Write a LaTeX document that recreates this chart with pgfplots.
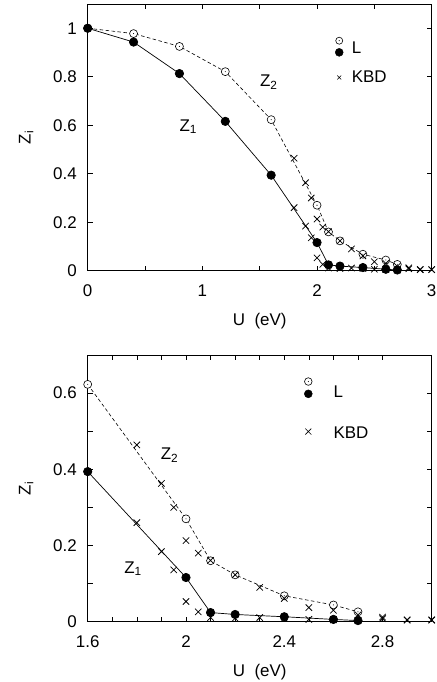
\documentclass[border=0pt]{standalone}
\usepackage{fontspec}
\setmainfont{Liberation Sans}
\usepackage{pgfplots}
\usepackage{pgfplotstable}
\pgfplotsset{compat=1.18}

\pgfdeclareplotmark{odot}{%
  \pgfpathcircle{\pgfpointorigin}{\pgfplotmarksize}\pgfusepathqfillstroke
  \begin{pgfscope}\pgfsetfillcolor{black}%
  \pgfpathcircle{\pgfpointorigin}{0.55pt}\pgfusepathqfill\end{pgfscope}}

\pgfplotstableread{
x z2 z1
0 1 1
0.4 0.978 0.943
0.8 0.925 0.813
1.2 0.821 0.616
1.6 0.623 0.394
2.0 0.270 0.116
2.1 0.160 0.024
2.2 0.123 0.019
2.4 0.068 0.013
2.6 0.044 0.006
2.7 0.026 0.003
}\Ldata

\pgfplotstableread{
x z2 z1
1.8 0.464 0.260
1.9 0.363 0.184
1.95 0.300 0.136
2.0 0.213 0.053
2.05 0.180 0.026
2.1 0.161 0.011
2.2 0.123 0.009
2.3 0.090 0.011
2.4 0.061 0.009
2.5 0.037 0.006
2.6 0.030 0.005
2.7 0.018 0.003
2.8 0.012 0.008
2.9 0.005 0.004
3.0 0.005 0.004
}\KBDdata

\newcommand{\fs}{\fontsize{17}{20}\selectfont}
\tikzset{lab/.style={font=\fs, inner sep=0pt}}

\pgfplotsset{
  myax/.style={
    scale only axis, width=344bp, height=266.7bp,
    clip=false,
    axis line style={line width=0.9bp},
    every tick/.style={line width=0.6bp, black},
    major tick length=5bp, minor tick length=5bp,
    tick align=inside,
    ticklabel style={font=\fs, inner sep=0pt, outer sep=0pt},
    xticklabel style={anchor=north, yshift=-14bp},
    yticklabel style={anchor=east, xshift=-11bp},
    /pgf/number format/assume math mode=true,
    xlabel={U\hspace{9.5bp}(eV)},
    xlabel style={font=\fs, inner sep=0pt, at={(axis description cs:0.5,0)}, anchor=north, yshift=-42.6bp},
  },
  zdash/.style={line width=0.6bp, dash pattern=on 3.5bp off 2.5bp, mark=odot, mark size=4bp,
      mark options={solid, fill=white, line width=0.6bp}},
  zsolid/.style={line width=0.7bp, mark=*, mark size=4.2bp, mark options={solid}},
  kbd/.style={only marks, mark=x, mark size=4.5bp, mark options={line width=0.75bp}},
}

\begin{document}
\begin{tikzpicture}
\useasboundingbox (0,0) rectangle (437bp,-682bp);

% ---------------- top panel ----------------
\begin{axis}[myax,
  at={(87.7bp,-270.7bp)}, anchor=south west,
  xmin=0, xmax=3, ymin=0, ymax=1.1,
  xtick={0,1,2,3}, minor x tick num=1,
  ytick={0,0.2,0.4,0.6,0.8,1},
]
\addplot[zdash] table[x=x, y=z2] {\Ldata};
\addplot[zsolid] table[x=x, y=z1] {\Ldata};
\addplot[kbd] table[x=x, y=z2] {\KBDdata};
\addplot[kbd] table[x=x, y=z1] {\KBDdata};

% legend
\addplot[only marks, mark=odot, mark size=3.5bp, mark options={fill=white, line width=0.6bp}] coordinates {(2.1936,0.9486)};
\addplot[only marks, mark=*, mark size=4bp] coordinates {(2.1936,0.9006)};
\addplot[only marks, mark=x, mark size=2.8bp, mark options={line width=0.6bp}] coordinates {(2.1936,0.797)};
\node[lab, anchor=west] at (axis cs:2.3017,0.9184) {L};
\node[lab, anchor=west] at (axis cs:2.3017,0.801) {KBD};

\node[lab, anchor=base west] at (axis cs:1.502,0.760) {Z\textsubscript{2}};
\node[lab, anchor=base west] at (axis cs:0.799,0.576) {Z\textsubscript{1}};
\node[lab, rotate=90, anchor=base] at ([xshift=-57bp]axis description cs:0,0.5) {Z\textsubscript{i}};
\end{axis}

% ---------------- bottom panel ----------------
\begin{axis}[myax,
  at={(87.7bp,-621.7bp)}, anchor=south west,
  xmin=1.6, xmax=3, ymin=0, ymax=0.7,
  xtick={1.6,2,2.4,2.8}, minor x tick num=3,
  ytick={0,0.2,0.4,0.6}, minor y tick num=1,
]
\addplot[zdash, restrict x to domain=1.59:3.01] table[x=x, y=z2] {\Ldata};
\addplot[zsolid, restrict x to domain=1.59:3.01] table[x=x, y=z1] {\Ldata};
\addplot[kbd] table[x=x, y=z2] {\KBDdata};
\addplot[kbd] table[x=x, y=z1] {\KBDdata};

% legend
\addplot[only marks, mark=odot, mark size=3.8bp, mark options={fill=white, line width=0.6bp}] coordinates {(2.4978,0.6304)};
\addplot[only marks, mark=*, mark size=4bp] coordinates {(2.4978,0.5981)};
\addplot[only marks, mark=x, mark size=4.2bp, mark options={line width=0.7bp}] coordinates {(2.4978,0.4991)};
\node[lab, anchor=west] at (axis cs:2.5996,0.6042) {L};
\node[lab, anchor=west] at (axis cs:2.5996,0.4970) {KBD};

\node[lab, anchor=base west] at (axis cs:1.897,0.425) {Z\textsubscript{2}};
\node[lab, anchor=base west] at (axis cs:1.748,0.127) {Z\textsubscript{1}};
\node[lab, rotate=90, anchor=base] at ([xshift=-57bp]axis description cs:0,0.5) {Z\textsubscript{i}};
\end{axis}
\end{tikzpicture}
\end{document}
